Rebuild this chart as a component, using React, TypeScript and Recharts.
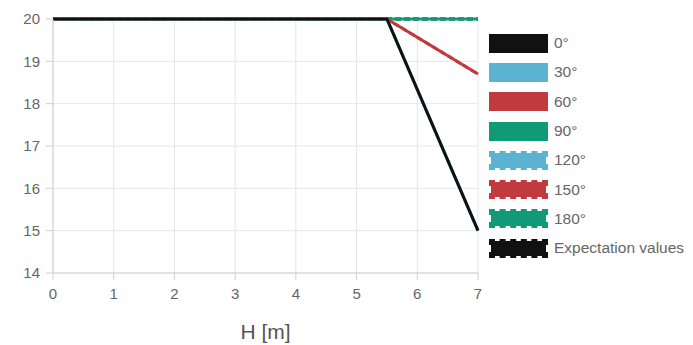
import React from 'react';
import { LineChart, Line, XAxis, YAxis, CartesianGrid, Label } from 'recharts';

const hValues = [0, 5.5, 7];
const angle0 = [20, 20, 15];
const angle30 = [20, 20, 15];
const angle60 = [20, 20, 18.7];
const angle90 = [20, 20, 20];
const angle120 = [20, 20, 15];
const angle150 = [20, 20, 18.7];
const angle180 = [20, 20, 20];
const expectation = [20, 20, 20];

const xTicks = [0, 1, 2, 3, 4, 5, 6, 7];
const yTicks = [14, 15, 16, 17, 18, 19, 20];

const data = hValues.map((h, i) => ({
  h,
  a0: angle0[i],
  a30: angle30[i],
  a60: angle60[i],
  a90: angle90[i],
  a120: angle120[i],
  a150: angle150[i],
  a180: angle180[i],
  exp: expectation[i]
}));

const series = [
  { key: 'a0', name: '0°', color: '#111111', dashed: false },
  { key: 'a30', name: '30°', color: '#5ab4d1', dashed: false },
  { key: 'a60', name: '60°', color: '#c13a3d', dashed: false },
  { key: 'a90', name: '90°', color: '#119a77', dashed: false },
  { key: 'a120', name: '120°', color: '#5ab4d1', dashed: true },
  { key: 'a150', name: '150°', color: '#c13a3d', dashed: true },
  { key: 'a180', name: '180°', color: '#119a77', dashed: true },
  { key: 'exp', name: 'Expectation values', color: '#111111', dashed: true }
];

const font = '"Liberation Sans", Arial, sans-serif';

function LegendBox() {
  return (
    <div style={{ position: 'absolute', left: 489, top: 28.5, fontFamily: font, fontSize: 15.5, color: '#666' }}>
      {series.map((s) => (
        <div key={s.key} style={{ display: 'flex', alignItems: 'center', height: 29.3 }}>
          <div
            style={{
              width: 55,
              height: 15,
              background: s.color,
              border: s.dashed ? `2px dashed ${s.color}` : `2px solid ${s.color}`,
              backgroundClip: 'padding-box'
            }}
          />
          <span style={{ marginLeft: 6 }}>{s.name}</span>
        </div>
      ))}
    </div>
  );
}

export default function App() {
  const drawOrder = [...series].reverse();
  return (
    <div style={{ position: 'absolute', left: 0, top: 0, width: 693, height: 345 }}>
      <LineChart
        width={693}
        height={345}
        data={data}
        margin={{ top: 19, right: 215, bottom: 0, left: 0 }}
      >
        <CartesianGrid stroke="#e6e6e6" />
        <XAxis
          dataKey="h"
          type="number"
          domain={[0, 7]}
          ticks={xTicks}
          height={72}
          tickSize={7}
          tickMargin={8}
          stroke="#d0d0d0"
          tick={{ fill: '#666', fontSize: 15, fontFamily: font }}
        >
          <Label
            value="H [m]"
            position="insideBottom"
            offset={6}
            style={{ fill: '#555', fontSize: 21, fontFamily: font }}
          />
        </XAxis>
        <YAxis
          type="number"
          domain={[14, 20]}
          ticks={yTicks}
          width={53}
          tickSize={7}
          tickMargin={6}
          stroke="#d0d0d0"
          tick={{ fill: '#666', fontSize: 15, fontFamily: font }}
        />
        {drawOrder.map((s) => (
          <Line
            key={s.key}
            dataKey={s.key}
            name={s.name}
            stroke={s.color}
            strokeWidth={3}
            strokeDasharray={s.dashed ? '6 3' : undefined}
            dot={false}
            type="linear"
            isAnimationActive={false}
          />
        ))}
      </LineChart>
      <LegendBox />
    </div>
  );
}
